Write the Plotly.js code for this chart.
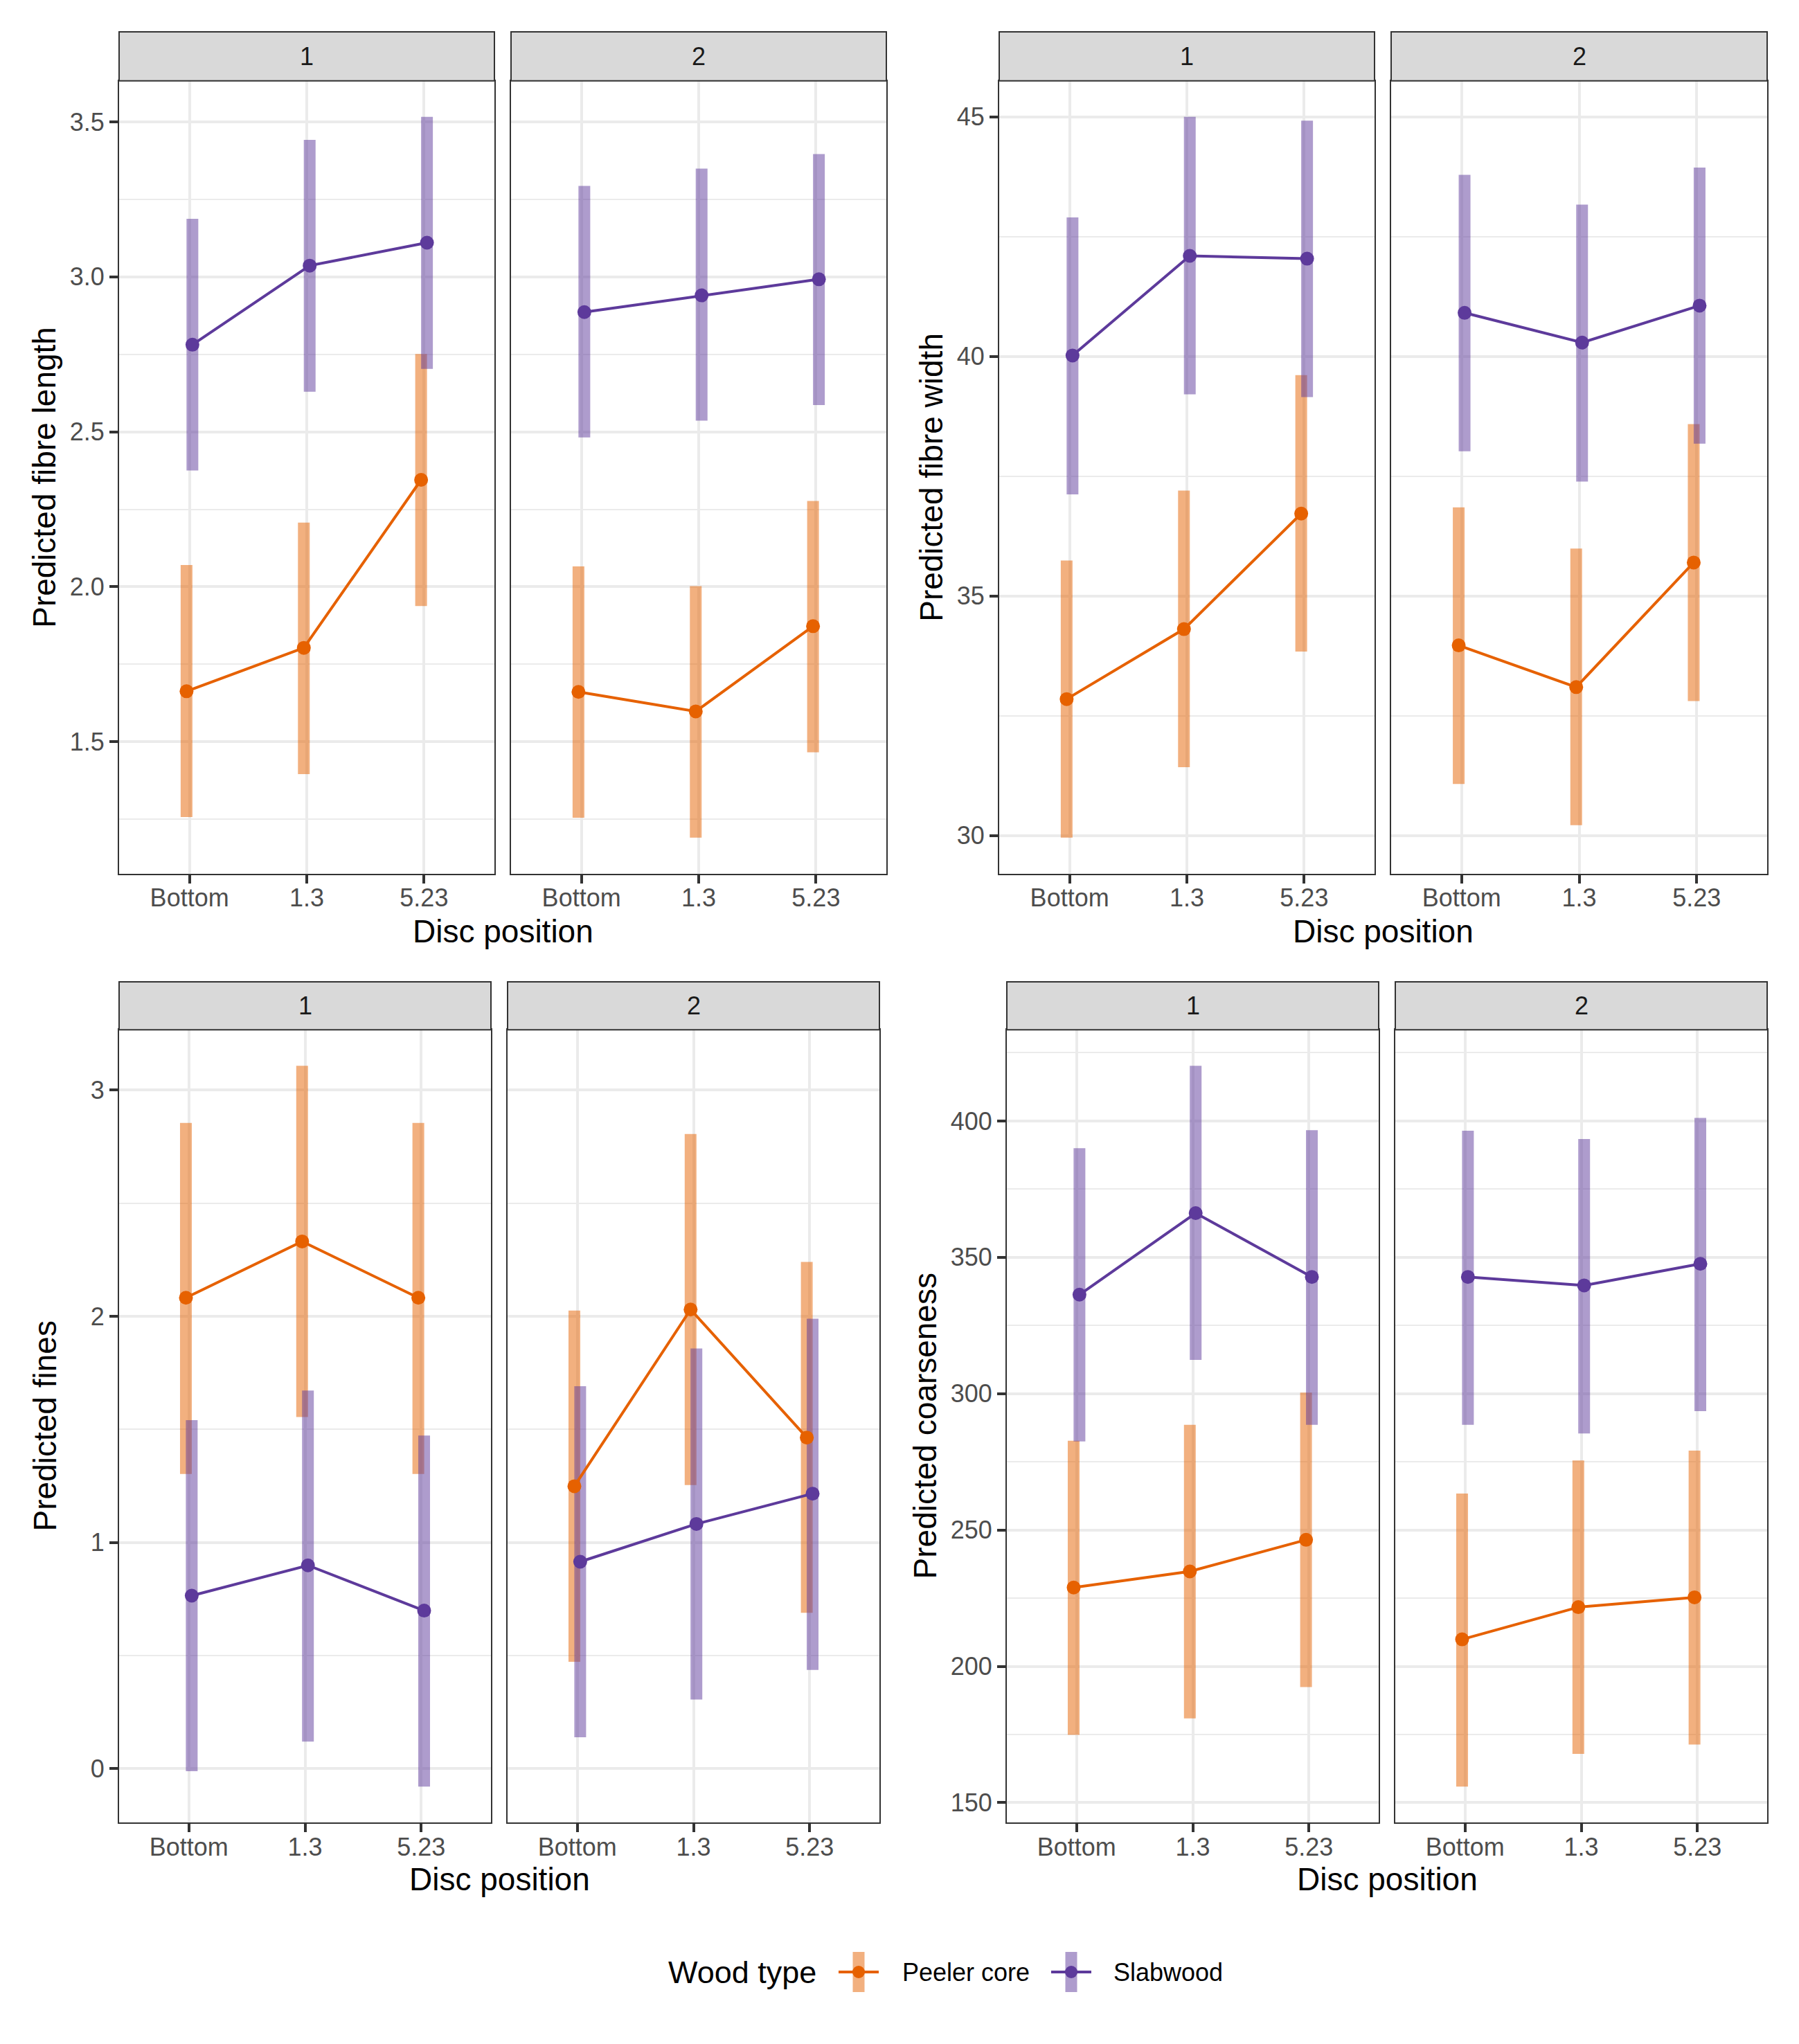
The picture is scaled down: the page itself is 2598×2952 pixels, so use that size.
<!DOCTYPE html>
<html><head><meta charset="utf-8">
<script src="https://cdn.plot.ly/plotly-3.0.1.min.js"></script>
<style>html,body{margin:0;padding:0;background:#fff}#chart{width:2598px;height:2952px}</style>
</head><body><div id="chart"></div>
<script>
// ---------------- DATA ----------------
const discPositions = ['Bottom', '1.3', '5.23'];
const woodTypes = ['Peeler core', 'Slabwood'];
const facetLabels = ['1', '2'];
const measureTitles = ['Predicted fibre length', 'Predicted fibre width', 'Predicted fines', 'Predicted coarseness'];
const xAxisTitle = 'Disc position';
const legendTitle = 'Wood type';

// Each array: [facet 1 values, facet 2 values], order = discPositions
const lengthPeelerEst = [[1.663, 1.803, 2.345], [1.661, 1.598, 1.873]];
const lengthPeelerLo  = [[1.257, 1.396, 1.938], [1.255, 1.191, 1.466]];
const lengthPeelerHi  = [[2.070, 2.207, 2.751], [2.066, 2.002, 2.277]];
const lengthSlabEst   = [[2.781, 3.036, 3.110], [2.886, 2.940, 2.992]];
const lengthSlabLo    = [[2.375, 2.629, 2.703], [2.482, 2.536, 2.586]];
const lengthSlabHi    = [[3.187, 3.442, 3.516], [3.293, 3.349, 3.396]];

const widthPeelerEst = [[32.85, 34.31, 36.72], [33.97, 33.10, 35.70]];
const widthPeelerLo  = [[29.96, 31.43, 33.84], [31.08, 30.22, 32.81]];
const widthPeelerHi  = [[35.74, 37.20, 39.61], [36.85, 35.99, 38.59]];
const widthSlabEst   = [[40.02, 42.10, 42.04], [40.91, 40.29, 41.06]];
const widthSlabLo    = [[37.12, 39.21, 39.15], [38.02, 37.39, 38.18]];
const widthSlabHi    = [[42.90, 45.00, 44.92], [43.79, 43.17, 43.94]];

const finesPeelerEst = [[2.082, 2.331, 2.082], [1.249, 2.030, 1.464]];
const finesPeelerLo  = [[1.303, 1.555, 1.303], [0.473, 1.254, 0.689]];
const finesPeelerHi  = [[2.855, 3.107, 2.855], [2.025, 2.806, 2.240]];
const finesSlabEst   = [[0.765, 0.899, 0.699], [0.915, 1.082, 1.216]];
const finesSlabLo    = [[-0.011, 0.120, -0.079], [0.139, 0.306, 0.437]];
const finesSlabHi    = [[1.541, 1.672, 1.473], [1.691, 1.858, 1.989]];

const coarsePeelerEst = [[228.9, 234.8, 246.4], [209.9, 221.7, 225.3]];
const coarsePeelerLo  = [[174.9, 180.9, 192.4], [155.9, 167.9, 171.3]];
const coarsePeelerHi  = [[282.7, 288.6, 300.4], [263.4, 275.5, 279.1]];
const coarseSlabEst   = [[336.3, 366.2, 342.8], [342.8, 339.7, 347.6]];
const coarseSlabLo    = [[282.5, 312.4, 288.6], [288.6, 285.4, 293.6]];
const coarseSlabHi    = [[390.0, 420.2, 396.6], [396.4, 393.4, 401.1]];

// ---------------- STYLE / LAYOUT ----------------
const W = 2598, H = 2952;
const FONT = 'Liberation Sans, Arial, Helvetica, sans-serif';
const colors = ['#E66100', '#5D3A9B'];
const ciColors = ['rgba(230,97,0,0.5)', 'rgba(93,58,155,0.5)'];
const dodge = [-0.025, 0.025];

const measures = [
  {title: measureTitles[0], step: 0.5, fmt: '.1f', groups: [[lengthPeelerEst, lengthPeelerLo, lengthPeelerHi], [lengthSlabEst, lengthSlabLo, lengthSlabHi]]},
  {title: measureTitles[1], step: 5,   fmt: 'd',   groups: [[widthPeelerEst, widthPeelerLo, widthPeelerHi], [widthSlabEst, widthSlabLo, widthSlabHi]]},
  {title: measureTitles[2], step: 1,   fmt: 'd',   groups: [[finesPeelerEst, finesPeelerLo, finesPeelerHi], [finesSlabEst, finesSlabLo, finesSlabHi]]},
  {title: measureTitles[3], step: 50,  fmt: 'd',   groups: [[coarsePeelerEst, coarsePeelerLo, coarsePeelerHi], [coarseSlabEst, coarseSlabLo, coarseSlabHi]]}
];

const boxes = [
  {px: [[172, 714], [738, 1280]],   top: 116.7,  bottom: 1261.7, stripTop: 46,   ytitleX: 64.6,   xtitleY: 1345},
  {px: [[1443, 1985], [2009, 2552]], top: 116.7,  bottom: 1261.7, stripTop: 46,   ytitleX: 1345.6, xtitleY: 1345},
  {px: [[172, 709], [733, 1270]],   top: 1487.3, bottom: 2632.3, stripTop: 1418, ytitleX: 64.6,   xtitleY: 2714},
  {px: [[1454, 1991], [2015, 2552]], top: 1487.3, bottom: 2632.3, stripTop: 1418, ytitleX: 1335.6, xtitleY: 2714}
];

const fx = p => p / W;
const fy = p => 1 - p / H;

const traces = [];
const layout = {
  width: W, height: H,
  margin: {l: 0, r: 0, t: 0, b: 0},
  paper_bgcolor: '#ffffff', plot_bgcolor: '#ffffff',
  font: {family: FONT, color: '#000000'},
  showlegend: false,
  shapes: [], annotations: []
};

let axisIndex = 0;
measures.forEach((m, mi) => {
  const box = boxes[mi];
  // shared y range across facets: data range expanded 5%
  let lo = Infinity, hi = -Infinity;
  m.groups.forEach(g => { g[1].forEach(a => a.forEach(v => lo = Math.min(lo, v))); g[2].forEach(a => a.forEach(v => hi = Math.max(hi, v))); });
  const pad = (hi - lo) * 0.05;
  const yRange = [lo - pad, hi + pad];

  for (let f = 0; f < 2; f++) {
    axisIndex++;
    const xa = 'x' + (axisIndex === 1 ? '' : axisIndex);
    const ya = 'y' + (axisIndex === 1 ? '' : axisIndex);
    const xKey = 'xaxis' + (axisIndex === 1 ? '' : axisIndex);
    const yKey = 'yaxis' + (axisIndex === 1 ? '' : axisIndex);
    const [x0, x1] = box.px[f];
    layout[xKey] = {
      domain: [fx(x0), fx(x1)], anchor: ya, range: [0.4, 3.6],
      tickmode: 'array', tickvals: [1, 2, 3], ticktext: discPositions,
      showgrid: true, gridcolor: '#EBEBEB', gridwidth: 4, zeroline: false,
      showline: true, mirror: true, linecolor: '#333333', linewidth: 2,
      ticks: 'outside', ticklen: 12, tickwidth: 4, tickcolor: '#333333',
      ticklabelstandoff: -10,
      tickfont: {family: FONT, size: 36, color: '#4D4D4D'}, fixedrange: true
    };
    layout[yKey] = {
      domain: [fy(box.bottom), fy(box.top)], anchor: xa, range: yRange,
      tickmode: 'linear', tick0: 0, dtick: m.step, tickformat: m.fmt,
      minor: {dtick: m.step / 2, tick0: 0, showgrid: true, gridcolor: '#EBEBEB', gridwidth: 2, ticks: ''},
      showgrid: true, gridcolor: '#EBEBEB', gridwidth: 4, zeroline: false,
      showline: true, mirror: true, linecolor: '#333333', linewidth: 2,
      ticks: f === 0 ? 'outside' : '', ticklen: 12, tickwidth: 4, tickcolor: '#333333',
      showticklabels: f === 0,
      tickfont: {family: FONT, size: 36, color: '#4D4D4D'}, fixedrange: true
    };

    // CI bars first (both groups), then lines+points
    m.groups.forEach((g, gi) => {
      const xs = [], ys = [];
      discPositions.forEach((d, i) => {
        xs.push(i + 1 + dodge[gi], i + 1 + dodge[gi], null);
        ys.push(g[1][f][i], g[2][f][i], null);
      });
      traces.push({type: 'scatter', mode: 'lines', x: xs, y: ys, xaxis: xa, yaxis: ya,
        line: {color: ciColors[gi], width: 17}, hoverinfo: 'skip', name: woodTypes[gi] + ' CI', connectgaps: false});
    });
    m.groups.forEach((g, gi) => {
      traces.push({type: 'scatter', mode: 'lines+markers',
        x: discPositions.map((d, i) => i + 1 + dodge[gi]), y: g[0][f],
        xaxis: xa, yaxis: ya, name: woodTypes[gi],
        text: discPositions, hovertemplate: '%{text}: %{y}<extra>' + woodTypes[gi] + '</extra>',
        line: {color: colors[gi], width: 4}, marker: {color: colors[gi], size: 20, line: {width: 0}}});
    });

    // strip
    layout.shapes.push({type: 'rect', xref: 'paper', yref: 'paper', x0: fx(x0), x1: fx(x1), y0: fy(box.top), y1: fy(box.stripTop),
      fillcolor: '#D9D9D9', line: {color: '#333333', width: 2}, layer: 'above'});
    layout.annotations.push({xref: 'paper', yref: 'paper', x: fx((x0 + x1) / 2), y: fy((box.top + box.stripTop) / 2),
      text: facetLabels[f], showarrow: false, xanchor: 'center', yanchor: 'middle',
      font: {family: FONT, size: 36, color: '#1A1A1A'}});
  }
  // axis titles
  layout.annotations.push({xref: 'paper', yref: 'paper', x: fx(box.ytitleX), y: fy((box.top + box.bottom) / 2),
    text: m.title, textangle: -90, showarrow: false, xanchor: 'center', yanchor: 'middle',
    font: {family: FONT, size: 46, color: '#000000'}});
  layout.annotations.push({xref: 'paper', yref: 'paper', x: fx((box.px[0][0] + box.px[1][1]) / 2), y: fy(box.xtitleY),
    text: xAxisTitle, showarrow: false, xanchor: 'center', yanchor: 'middle',
    font: {family: FONT, size: 46, color: '#000000'}});
});

// manual legend
const legY = 2848;
layout.annotations.push({xref: 'paper', yref: 'paper', x: fx(963), y: fy(legY), text: legendTitle, showarrow: false,
  xanchor: 'left', yanchor: 'middle', font: {family: FONT, size: 45, color: '#000000'}});
const keyX = [1240, 1547];
const labelX = [1301, 1606];
woodTypes.forEach((w, gi) => {
  const cx = keyX[gi];
  layout.shapes.push({type: 'rect', xref: 'paper', yref: 'paper', x0: fx(cx - 8.5), x1: fx(cx + 8.5), y0: fy(legY + 29), y1: fy(legY - 29),
    fillcolor: ciColors[gi], line: {width: 0}});
  layout.shapes.push({type: 'line', xref: 'paper', yref: 'paper', x0: fx(cx - 29), x1: fx(cx + 29), y0: fy(legY), y1: fy(legY),
    line: {color: colors[gi], width: 4}});
  layout.shapes.push({type: 'circle', xref: 'paper', yref: 'paper', x0: fx(cx - 9), x1: fx(cx + 9), y0: fy(legY + 9), y1: fy(legY - 9),
    fillcolor: colors[gi], line: {width: 0}});
  layout.annotations.push({xref: 'paper', yref: 'paper', x: fx(labelX[gi]), y: fy(legY), text: w, showarrow: false,
    xanchor: 'left', yanchor: 'middle', font: {family: FONT, size: 36, color: '#000000'}});
});

Plotly.newPlot('chart', traces, layout, {staticPlot: true, displayModeBar: false});
</script></body></html>
